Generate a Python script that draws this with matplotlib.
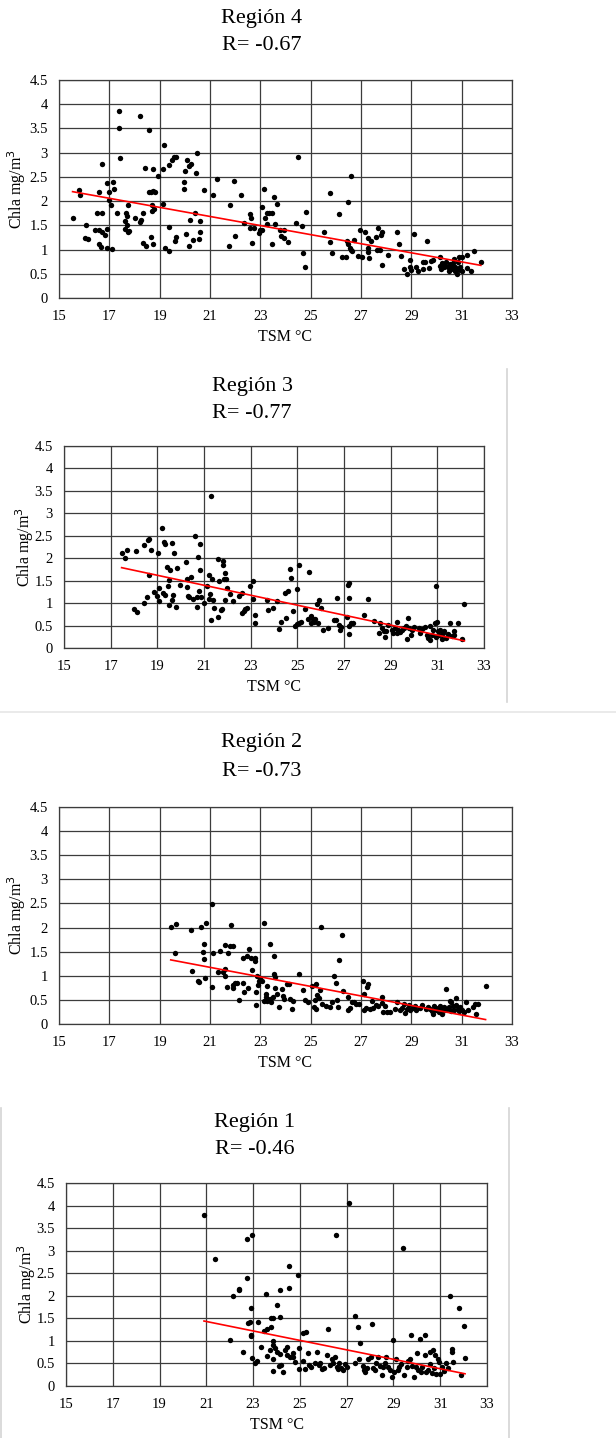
import numpy as np
import matplotlib
matplotlib.use("Agg")
import matplotlib.pyplot as plt
from matplotlib.lines import Line2D

plt.rcParams["font.family"] = ["Liberation Serif", "DejaVu Serif"]

# ── Región 4 ──
r4_tsm = [15.54, 15.81, 15.84, 16.07, 16.02, 16.15, 16.42, 16.50, 16.58, 16.58, 16.60, 16.68,
          16.71, 16.71, 16.71, 16.84, 16.92, 16.92, 16.92, 16.97, 17.00, 17.05, 17.09, 17.16,
          17.18, 17.32, 17.38, 17.37, 17.42, 17.61, 17.64, 17.66, 17.69, 17.69, 17.74, 17.74,
          17.79, 18.03, 18.22, 18.22, 18.25, 18.33, 18.35, 18.43, 18.46, 18.57, 18.57, 18.65,
          18.65, 18.70, 18.70, 18.72, 18.75, 18.75, 18.78, 18.83, 18.94, 19.18, 19.15, 19.15,
          19.21, 19.36, 19.36, 19.36, 19.49, 19.57, 19.63, 19.65, 19.60, 19.95, 20.00, 19.97,
          20.05, 20.10, 20.18, 20.24, 20.21, 20.18, 20.34, 20.40, 20.45, 20.50, 20.56, 20.61,
          20.61, 20.77, 21.11, 21.27, 21.77, 21.80, 21.96, 22.01, 22.25, 22.36, 22.57, 22.60,
          22.62, 22.68, 22.75, 22.94, 23.00, 23.05, 23.07, 23.15, 23.18, 23.26, 23.26, 23.36,
          23.45, 23.48, 23.55, 23.60, 23.66, 23.79, 23.84, 23.95, 23.95, 24.08, 24.40, 24.48,
          24.66, 24.69, 24.77, 24.82, 25.54, 25.78, 25.78, 25.83, 26.12, 26.25, 26.41, 26.44,
          26.47, 26.49, 26.55, 26.60, 26.60, 26.65, 26.71, 26.89, 26.97, 27.03, 27.16, 27.27,
          27.29, 27.29, 27.32, 27.39, 27.58, 27.63, 27.66, 27.77, 27.79, 27.82, 27.84, 28.06,
          28.43, 28.51, 28.59, 28.72, 28.83, 28.93, 28.96, 28.98, 29.12, 29.17, 29.25, 29.46,
          29.48, 29.56, 29.62, 29.72, 29.80, 29.88, 30.12, 30.15, 30.17, 30.22, 30.28, 30.33,
          30.38, 30.44, 30.49, 30.54, 30.57, 30.62, 30.65, 30.70, 30.73, 30.75, 30.81, 30.84,
          30.86, 30.89, 30.92, 30.95, 31.00, 31.02, 31.23, 31.23, 31.39, 31.50, 31.76]
r4_chla = [1.66, 2.23, 2.13, 1.50, 1.24, 1.22, 1.41, 1.75, 2.19, 1.40, 1.11, 1.06,
           2.77, 1.75, 1.37, 1.30, 1.43, 1.04, 2.38, 2.19, 2.02, 1.91, 1.01, 2.39,
           2.26, 1.75, 3.86, 3.50, 2.89, 1.59, 1.43, 1.75, 1.70, 1.51, 1.37, 1.91,
           1.39, 1.66, 3.76, 1.57, 1.61, 1.75, 1.14, 2.68, 1.07, 3.46, 2.19, 2.19,
           1.26, 1.93, 1.80, 1.12, 2.67, 2.20, 1.83, 2.19, 2.51, 3.15, 2.66, 1.95,
           1.03, 1.47, 2.74, 0.96, 2.84, 2.91, 2.91, 1.25, 1.17, 2.39, 2.63, 2.24,
           1.32, 2.84, 2.73, 2.77, 1.62, 1.07, 1.19, 1.75, 2.59, 2.99, 1.21, 1.37,
           1.58, 2.22, 2.12, 2.46, 1.08, 1.91, 2.41, 1.28, 2.13, 1.55, 1.73, 1.44,
           1.66, 1.14, 1.44, 1.35, 1.41, 1.87, 1.40, 2.26, 1.65, 1.53, 1.75, 1.75,
           1.75, 1.11, 2.09, 1.53, 1.94, 1.41, 1.28, 1.40, 1.24, 1.15, 1.55, 2.91,
           1.48, 0.93, 0.64, 1.77, 1.36, 2.16, 1.15, 0.92, 1.73, 0.85, 0.85, 1.18,
           1.98, 1.11, 1.04, 2.51, 1.00, 0.96, 1.19, 0.86, 1.40, 0.85, 1.37, 0.95,
           1.03, 1.24, 0.82, 1.18, 1.25, 1.00, 1.44, 1.00, 1.30, 0.68, 1.37, 0.88,
           1.36, 1.12, 0.86, 0.59, 0.49, 0.64, 0.78, 0.57, 1.33, 0.63, 0.56, 0.75,
           0.59, 0.75, 1.17, 0.61, 0.77, 0.78, 0.67, 0.85, 0.60, 0.72, 0.64, 0.67,
           0.74, 0.64, 0.56, 0.70, 0.59, 0.64, 0.72, 0.81, 0.64, 0.56, 0.49, 0.59,
           0.75, 0.85, 0.64, 0.57, 0.84, 0.55, 0.88, 0.61, 0.56, 0.97, 0.74]

# ── Región 3 ──
r3_tsm = [17.47, 17.61, 17.72, 18.01, 18.07, 18.12, 18.41, 18.44, 18.55, 18.58, 18.64, 18.64,
          18.72, 18.87, 18.98, 19.01, 19.06, 19.09, 19.21, 19.26, 19.29, 19.32, 19.32, 19.41,
          19.46, 19.49, 19.52, 19.55, 19.61, 19.64, 19.69, 19.72, 19.81, 19.84, 19.98, 20.21,
          20.26, 20.29, 20.33, 20.35, 20.43, 20.52, 20.63, 20.69, 20.72, 20.75, 20.78, 20.81,
          20.83, 20.89, 20.98, 21.12, 21.20, 21.23, 21.26, 21.29, 21.29, 21.35, 21.38, 21.43,
          21.58, 21.60, 21.66, 21.72, 21.78, 21.80, 21.80, 21.86, 21.89, 21.92, 21.95, 21.97,
          22.12, 22.23, 22.52, 22.63, 22.63, 22.72, 22.77, 22.86, 22.97, 23.12, 23.12, 23.17,
          23.17, 23.69, 23.74, 23.94, 24.12, 24.20, 24.31, 24.46, 24.51, 24.60, 24.69, 24.72,
          24.83, 24.91, 25.00, 25.00, 25.06, 25.08, 25.17, 25.34, 25.46, 25.51, 25.57, 25.60,
          25.66, 25.71, 25.77, 25.85, 25.88, 25.94, 26.03, 26.11, 26.31, 26.57, 26.66, 26.68,
          26.77, 26.82, 26.88, 27.14, 27.17, 27.23, 27.23, 27.20, 27.23, 27.28, 27.40, 27.85,
          28.02, 28.28, 28.48, 28.56, 28.62, 28.71, 28.76, 28.82, 28.88, 29.05, 29.10, 29.19,
          29.25, 29.28, 29.33, 29.39, 29.47, 29.56, 29.65, 29.70, 29.76, 29.79, 29.85, 29.90,
          30.02, 30.22, 30.27, 30.36, 30.48, 30.56, 30.62, 30.68, 30.70, 30.76, 30.82, 30.88,
          30.93, 30.96, 30.99, 31.02, 31.07, 31.13, 31.19, 31.25, 31.30, 31.39, 31.45, 31.53,
          31.62, 31.70, 31.73, 31.90, 32.04, 32.16]
r3_chla = [2.11, 2.00, 2.19, 0.86, 2.16, 0.80, 1.01, 2.30, 1.14, 2.40, 2.43, 1.62,
           2.19, 1.25, 1.16, 2.11, 1.33, 1.04, 2.67, 1.23, 2.36, 2.31, 1.19, 1.81,
           1.39, 0.96, 1.51, 1.73, 1.08, 2.33, 1.17, 2.11, 0.92, 1.78, 1.41, 1.91,
           1.54, 1.35, 1.16, 1.14, 1.59, 1.10, 2.49, 0.92, 1.13, 2.03, 1.28, 2.31,
           1.73, 1.13, 1.01, 1.39, 1.63, 1.10, 1.20, 3.38, 0.62, 1.54, 1.07, 0.90,
           1.99, 0.70, 1.50, 0.85, 0.87, 1.94, 1.84, 1.54, 1.07, 1.68, 1.54, 1.33,
           1.20, 1.04, 1.16, 1.22, 0.79, 0.83, 0.86, 0.89, 1.39, 1.50, 1.10, 0.74,
           0.56, 1.07, 0.85, 0.90, 1.04, 0.42, 0.58, 1.22, 0.67, 1.28, 1.76, 1.57,
           0.83, 0.50, 1.32, 0.53, 1.85, 0.56, 0.58, 0.87, 0.65, 1.70, 0.71, 0.56,
           0.64, 0.59, 0.65, 0.99, 0.56, 1.08, 0.90, 0.39, 0.44, 0.62, 0.62, 1.11,
           0.52, 0.39, 0.47, 0.68, 1.41, 1.44, 1.11, 0.31, 0.49, 0.55, 0.55, 0.74,
           1.10, 0.61, 0.34, 0.56, 0.44, 0.37, 0.24, 0.37, 0.52, 0.40, 0.34, 0.44,
           0.58, 0.33, 0.40, 0.36, 0.39, 0.44, 0.50, 0.21, 0.67, 0.44, 0.28, 0.40,
           0.46, 0.44, 0.33, 0.42, 0.47, 0.28, 0.22, 0.50, 0.18, 0.30, 0.40, 0.55,
           0.25, 1.38, 0.59, 0.37, 0.30, 0.40, 0.21, 0.33, 0.37, 0.22, 0.31, 0.55,
           0.27, 0.37, 0.28, 0.56, 0.21, 0.99]

# ── Región 2 ──
r2_tsm = [19.44, 19.63, 19.60, 20.26, 20.29, 20.53, 20.55, 20.63, 20.74, 20.77, 20.77, 20.82,
          20.85, 21.08, 21.08, 21.11, 21.32, 21.40, 21.51, 21.59, 21.59, 21.61, 21.67, 21.72,
          21.80, 21.83, 21.91, 21.93, 21.93, 21.99, 22.07, 22.14, 22.30, 22.33, 22.36, 22.46,
          22.52, 22.54, 22.62, 22.67, 22.78, 22.78, 22.81, 22.83, 22.86, 22.91, 22.94, 22.99,
          23.07, 23.13, 23.13, 23.21, 23.23, 23.26, 23.28, 23.39, 23.39, 23.42, 23.50, 23.55,
          23.55, 23.58, 23.58, 23.66, 23.74, 23.87, 23.89, 23.95, 24.05, 24.13, 24.16, 24.27,
          24.29, 24.53, 24.69, 24.77, 24.88, 25.06, 25.14, 25.19, 25.22, 25.22, 25.27, 25.33,
          25.38, 25.41, 25.46, 25.62, 25.78, 25.83, 25.91, 26.02, 26.04, 26.07, 26.12, 26.23,
          26.28, 26.47, 26.49, 26.57, 26.63, 26.71, 26.81, 26.94, 27.08, 27.10, 27.10, 27.18,
          27.24, 27.29, 27.34, 27.42, 27.47, 27.58, 27.68, 27.82, 27.84, 27.86, 27.97, 28.03,
          28.16, 28.37, 28.43, 28.56, 28.64, 28.69, 28.75, 28.83, 28.90, 28.96, 29.07, 29.14,
          29.20, 29.33, 29.41, 29.57, 29.67, 29.75, 29.81, 29.86, 29.91, 29.99, 30.04, 30.10,
          30.15, 30.20, 30.23, 30.28, 30.34, 30.36, 30.42, 30.49, 30.52, 30.57, 30.59, 30.65,
          30.70, 30.76, 30.78, 30.84, 30.89, 30.95, 31.03, 31.11, 31.18, 31.26, 31.45, 31.53,
          31.58, 31.63, 31.95]
r2_chla = [2.01, 2.08, 1.47, 1.94, 1.10, 0.90, 0.88, 2.01, 1.50, 1.65, 1.35, 0.95,
           2.09, 2.49, 0.77, 1.48, 1.08, 1.51, 1.07, 1.64, 1.14, 0.99, 0.77, 1.47,
           1.61, 2.05, 0.75, 1.61, 0.81, 0.85, 0.85, 0.50, 1.37, 0.84, 0.66, 1.40,
           0.75, 1.55, 1.36, 1.11, 1.36, 1.30, 0.66, 0.39, 1.00, 0.81, 0.89, 0.95,
           0.89, 2.09, 0.48, 0.55, 0.63, 0.79, 0.48, 1.66, 0.52, 0.46, 0.55, 1.40,
           1.03, 0.97, 0.75, 0.63, 0.35, 0.72, 0.59, 0.52, 0.82, 0.82, 0.52, 0.32,
           0.48, 1.03, 0.70, 0.50, 0.46, 0.79, 0.35, 0.50, 0.82, 0.31, 0.60, 0.53,
           0.70, 2.02, 0.42, 0.37, 0.35, 0.45, 1.00, 0.84, 0.50, 0.35, 1.32, 1.84,
           0.68, 0.55, 0.30, 0.34, 0.46, 0.45, 0.41, 0.41, 0.90, 0.63, 0.28, 0.34,
           0.77, 0.82, 0.32, 0.48, 0.34, 0.39, 0.38, 0.43, 0.56, 0.24, 0.38, 0.24,
           0.24, 0.31, 0.46, 0.30, 0.34, 0.42, 0.23, 0.32, 0.39, 0.30, 0.34, 0.37,
           0.30, 0.34, 0.39, 0.32, 0.35, 0.31, 0.26, 0.21, 0.38, 0.28, 0.34, 0.24,
           0.38, 0.20, 0.30, 0.35, 0.28, 0.72, 0.32, 0.35, 0.48, 0.26, 0.45, 0.37,
           0.30, 0.53, 0.39, 0.32, 0.27, 0.35, 0.30, 0.24, 0.45, 0.28, 0.35, 0.41,
           0.21, 0.42, 0.79]

# ── Región 1 ──
r1_tsm = [20.90, 21.39, 22.01, 22.16, 22.38, 22.41, 22.58, 22.73, 22.75, 22.78, 22.86, 22.89,
          22.89, 22.92, 22.95, 22.95, 23.10, 23.18, 23.21, 23.35, 23.46, 23.55, 23.58, 23.61,
          23.72, 23.78, 23.78, 23.84, 23.84, 23.84, 23.87, 23.87, 23.92, 24.01, 24.01, 24.10,
          24.13, 24.15, 24.15, 24.21, 24.26, 24.38, 24.43, 24.46, 24.52, 24.55, 24.58, 24.69,
          24.72, 24.80, 24.92, 24.95, 24.98, 25.12, 25.15, 25.21, 25.27, 25.35, 25.37, 25.46,
          25.63, 25.74, 25.83, 25.88, 25.94, 26.03, 26.14, 26.22, 26.28, 26.37, 26.43, 26.51,
          26.54, 26.57, 26.63, 26.68, 26.77, 26.85, 26.91, 27.00, 27.08, 27.34, 27.36, 27.48,
          27.51, 27.59, 27.68, 27.74, 27.79, 27.85, 27.93, 28.02, 28.07, 28.13, 28.22, 28.27,
          28.33, 28.42, 28.50, 28.56, 28.64, 28.70, 28.76, 28.84, 28.93, 28.96, 29.04, 29.13,
          29.19, 29.24, 29.33, 29.42, 29.47, 29.56, 29.64, 29.70, 29.76, 29.81, 29.90, 29.96,
          30.01, 30.07, 30.13, 30.18, 30.24, 30.33, 30.35, 30.41, 30.47, 30.55, 30.58, 30.64,
          30.69, 30.75, 30.78, 30.84, 30.89, 30.95, 31.01, 31.09, 31.15, 31.26, 31.35, 31.43,
          31.49, 31.52, 31.55, 31.80, 31.89, 32.00, 32.06]
r1_chla = [3.80, 2.82, 1.02, 1.99, 2.16, 2.13, 0.76, 2.39, 3.25, 1.39, 1.42, 1.73,
           1.14, 1.10, 0.62, 3.35, 0.52, 0.56, 1.41, 0.86, 1.23, 2.03, 1.26, 0.67,
           0.79, 1.30, 1.50, 0.33, 0.59, 0.99, 1.51, 0.90, 0.85, 1.79, 0.76, 0.44,
           1.54, 2.12, 0.71, 0.47, 0.31, 0.79, 0.86, 0.68, 2.18, 2.65, 0.64, 0.73,
           0.64, 0.53, 2.45, 0.85, 0.37, 1.17, 0.55, 0.37, 1.20, 0.74, 0.47, 0.42,
           0.52, 0.76, 0.46, 0.50, 0.37, 0.39, 0.68, 1.27, 0.47, 0.59, 0.50, 0.64,
           3.34, 0.42, 0.37, 0.52, 0.40, 0.36, 0.49, 0.42, 4.05, 1.56, 0.52, 1.30,
           0.59, 0.95, 0.44, 0.36, 0.31, 0.40, 0.59, 0.64, 1.38, 0.40, 0.36, 0.52,
           0.64, 0.44, 0.25, 0.42, 0.50, 0.64, 0.42, 0.36, 0.19, 1.02, 0.31, 0.59,
           0.36, 0.42, 0.49, 3.05, 0.25, 0.42, 0.55, 0.59, 1.13, 0.44, 0.19, 0.42,
           0.74, 0.36, 1.05, 0.31, 0.42, 0.68, 1.13, 0.30, 0.36, 0.76, 0.49, 0.28,
           0.79, 0.39, 0.68, 0.27, 0.59, 0.53, 0.27, 0.42, 0.33, 0.52, 0.39, 2.00,
           0.82, 0.76, 0.53, 1.72, 0.25, 1.32, 0.61]

# panel order top→bottom, linear trend (slope, intercept)
names = ["Región 4", "Región 3", "Región 2", "Región 1"]
r_vals = ["-0.67", "-0.77", "-0.73", "-0.46"]
trend_slope = [-0.0938, -0.111, -0.0989, -0.1048]
trend_icpt = [3.653, 3.729, 3.252, 3.631]
tsm_all = [r4_tsm, r3_tsm, r2_tsm, r1_tsm]
chla_all = [r4_chla, r3_chla, r2_chla, r1_chla]

x_ticks = list(range(15, 34, 2))
y_ticks = [0, 0.5, 1, 1.5, 2, 2.5, 3, 3.5, 4, 4.5]
y_ticklabels = ["0", "0.5", "1", "1.5", "2", "2.5", "3", "3.5", "4", "4.5"]

W, H = 616, 1438
fig = plt.figure(figsize=(W / 100, H / 100), dpi=100)

# pixel boxes of the plot areas (left, right, top, bottom) and title centres
boxes = [(59, 512, 80, 298), (64, 484, 446, 648), (59, 512, 807, 1024), (66, 487, 1183, 1386)]
title_xy = [(262, 18, 45), (252, 387, 413), (262, 743, 772), (255, 1123, 1150)]
ylab_x = [17, 25, 17, 27]

for i in range(4):
    l, r, t, b = boxes[i]
    ax = fig.add_axes([l / W, 1 - b / H, (r - l) / W, (b - t) / H])
    x = np.array(tsm_all[i])
    y = np.array(chla_all[i])
    ax.scatter(x, y, s=15, color="black", zorder=3, linewidths=0)
    xs = np.array([x.min(), x.max()])
    ax.plot(xs, trend_slope[i] * xs + trend_icpt[i], color="#ff0000", lw=1.2, zorder=4)

    ax.set_xlim(15, 33)
    ax.set_ylim(0, 4.5)
    ax.set_xticks(x_ticks)
    ax.set_yticks(y_ticks)
    ax.set_yticklabels(y_ticklabels)
    ax.grid(True, color="#3c3c3c", lw=0.9)
    ax.set_axisbelow(True)
    ax.tick_params(length=0, labelsize=10.5)
    ax.tick_params(axis="x", pad=9)
    ax.tick_params(axis="y", pad=8)
    for sp in ax.spines.values():
        sp.set_color("#3c3c3c")
        sp.set_linewidth(0.9)

    # axis labels
    ax.set_xlabel("TSM °C", fontsize=11.5, labelpad=4)
    fig.text(ylab_x[i] / W, 1 - ((t + b) / 2) / H, "Chla mg/m$^3$", rotation=90,
             ha="center", va="center", fontsize=11.5)

    tx, ty1, ty2 = title_xy[i]
    fig.text(tx / W, 1 - ty1 / H, names[i], ha="center", va="center", fontsize=16)
    fig.text(tx / W, 1 - ty2 / H, "R= " + r_vals[i], ha="center", va="center", fontsize=16)

# light frame lines around panels (from the page the charts were cut out of)
sep = "#d4d4d4"
fig.add_artist(Line2D([507 / W, 507 / W], [1 - 369 / H, 1 - 702 / H], color=sep, lw=1.2))
fig.add_artist(Line2D([0, 1], [1 - 712 / H, 1 - 712 / H], color="#e6e6e6", lw=1.2))
fig.add_artist(Line2D([1 / W, 1 / W], [1 - 1108 / H, 0], color=sep, lw=1.2))
fig.add_artist(Line2D([509 / W, 509 / W], [1 - 1108 / H, 0], color=sep, lw=1.2))

fig.savefig("out.png", dpi=100, facecolor="white")
